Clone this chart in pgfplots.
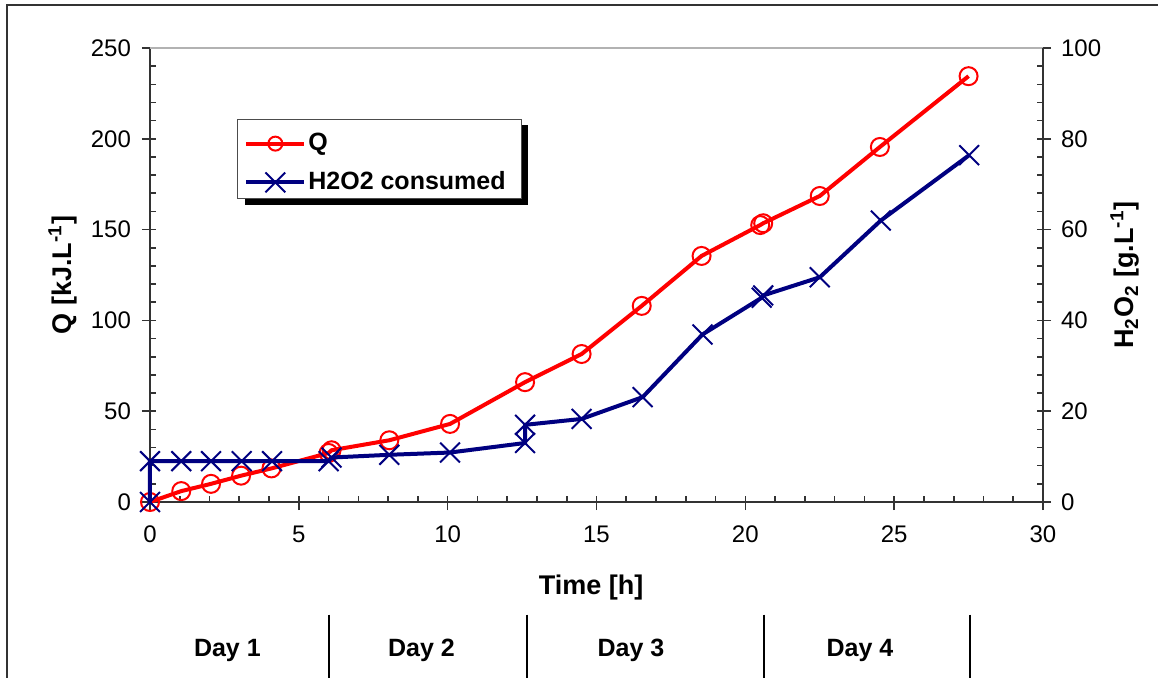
\documentclass[border=0pt]{standalone}
\usepackage{fontspec}
\setmainfont{Liberation Sans}
\usepackage{pgfplots}
\pgfplotsset{compat=1.18}
\definecolor{navyb}{RGB}{0,0,128}
\definecolor{redq}{RGB}{255,0,0}
\definecolor{axc}{RGB}{51,51,51}

\pgfplotsset{
  base/.style={scale only axis, width=446.5pt, height=227pt, xmin=0, xmax=30, clip=false,
    axis line style={axc, line width=0.8pt, -},
    tick style={axc, line width=0.8pt},
    tick label style={font=\fontsize{12}{14}\selectfont},
    label style={font=\bfseries\fontsize{13.5}{16}\selectfont},
    /pgf/number format/assume math mode=true},
  qstyle/.style={redq, line width=2pt, mark=o, mark size=4.5pt, mark options={solid, line width=1pt}},
  hstyle/.style={navyb, line width=2pt, mark=x, mark size=7pt, mark options={solid, line width=1pt}},
}

\begin{document}
\begin{tikzpicture}
% inside (minor) ticks
\begin{axis}[base, ymin=0, ymax=250,
  axis line style={draw=none},
  xtick={0,1,...,30}, ytick={0,10,...,250},
  xticklabels={}, yticklabels={},
  tick align=inside, major tick length=3pt,
  xtick pos=left, ytick pos=both]
\addplot[draw=none] coordinates {(0,0)};
\end{axis}
% main left axis with Q
\begin{axis}[base, ymin=0, ymax=250,
  axis x line*=bottom, axis y line*=left,
  tick align=outside, major tick length=4pt,
  xtick={0,5,...,30}, ytick={0,50,...,250},
  xticklabel style={yshift=-4.5pt},
  yticklabel style={xshift=-2pt},
  xlabel={Time [h]},
  ylabel={Q [kJ.L\textsuperscript{-1}]},
  xlabel style={at={(axis description cs:0.494,-0.1894)}, anchor=center},
  ylabel style={at={(axis description cs:-0.0974,0.5)}, anchor=center}]
\addplot[qstyle] coordinates {
(0,0) (1.05,6) (2.05,10) (3.06,14.5) (4.08,18.5) (6.0,27) (6.1,28.5)
(8.04,34) (10.08,43) (12.6,66) (14.5,81.5) (16.52,108) (18.53,135.5)
(20.5,152.5) (20.6,153.5) (22.5,168.5) (24.52,195.5) (27.5,234.5)};
\coordinate (O) at (axis cs:0,0);
\draw[gray!60, line width=1pt] (axis cs:0,250) -- (axis cs:30,250);
\draw[black, line width=0.8pt] (axis cs:6.01,-62) -- (axis cs:6.01,-100);
\draw[black, line width=0.8pt] (axis cs:12.66,-62) -- (axis cs:12.66,-100);
\draw[black, line width=0.8pt] (axis cs:20.62,-62) -- (axis cs:20.62,-100);
\draw[black, line width=0.8pt] (axis cs:27.54,-62) -- (axis cs:27.54,-100);
\node[font=\bfseries\fontsize{12.5}{15}\selectfont] at (axis cs:2.6,-81.5) {Day 1};
\node[font=\bfseries\fontsize{12.5}{15}\selectfont] at (axis cs:9.12,-81.5) {Day 2};
\node[font=\bfseries\fontsize{12.5}{15}\selectfont] at (axis cs:16.16,-81.5) {Day 3};
\node[font=\bfseries\fontsize{12.5}{15}\selectfont] at (axis cs:23.85,-81.5) {Day 4};
\end{axis}
% right axis with H2O2
\begin{axis}[base, ymin=0, ymax=100,
  hide x axis, axis y line*=right,
  tick align=outside, major tick length=4pt,
  ytick={0,20,...,100},
  yticklabel style={xshift=1.5pt},
  ylabel={H\textsubscript{2}O\textsubscript{2} [g.L\textsuperscript{-1}]},
  ylabel style={at={(axis description cs:1.0918,0.5)}, anchor=center},
  legend cell align=left,
  legend image code/.code={\draw[#1, mark repeat=2, mark phase=2] plot coordinates {(0pt,0pt) (14.5pt,0pt) (29pt,0pt)};},
  legend style={at={(axis description cs:0.0985,0.8425)}, anchor=north west,
    draw=none, fill=none,
    font=\bfseries\fontsize{12.5}{15}\selectfont,
    inner xsep=3pt, inner ysep=5.75pt, row sep=7pt,
    nodes={inner sep=1pt}}]
\fill[black] (axis description cs:0.1064,0.8315) rectangle (axis description cs:0.4233,0.6542);
\filldraw[fill=white, draw=black!70, line width=0.5pt] (axis description cs:0.0985,0.8425) rectangle (axis description cs:0.4155,0.6696);
\addlegendimage{qstyle, mark size=3.5pt}
\addlegendentry{Q}
\addplot[hstyle] coordinates {
(0,0) (0,9) (1.05,9) (2.05,9) (3.08,9) (4.1,9) (6.0,9) (6.1,9.8)
(8.04,10.4) (10.08,10.9) (12.6,13) (12.6,17) (14.5,18.3) (16.55,23.1)
(18.56,36.9) (20.55,45) (20.6,45.5) (22.5,49.5) (24.55,62) (27.52,76.4)};
\addlegendentry{H2O2 consumed}
\end{axis}
\draw[axc, line width=1pt] ([xshift=-71.5pt, yshift=-100pt]O) -- ([xshift=-71.5pt, yshift=248.5pt]O) -- ([xshift=520pt, yshift=248.5pt]O);
\pgfresetboundingbox
\path[use as bounding box] ([xshift=-75pt, yshift=-87.5pt]O) rectangle ([xshift=504pt, yshift=251pt]O);
\end{tikzpicture}
\end{document}
